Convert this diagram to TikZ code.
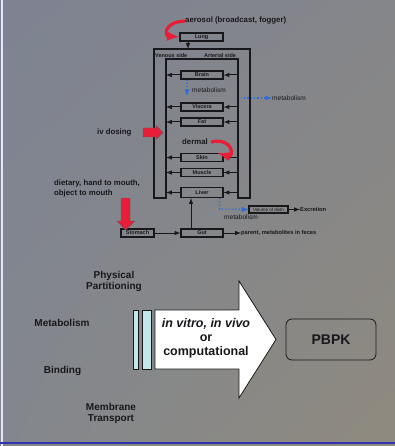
\documentclass[tikz,border=0pt]{standalone}
\usepackage{fontspec}
\setmainfont{Liberation Sans}
\usepackage{tikz}
\usetikzlibrary{arrows, positioning, calc, shadings}

\definecolor{bgtl}{RGB}{126,131,146}
\definecolor{bgtr}{RGB}{133,134,138}
\definecolor{bgbl}{RGB}{131,135,141}
\definecolor{bgbr}{RGB}{143,138,127}
\definecolor{doseRed}{RGB}{232,30,56}
\definecolor{metBlue}{RGB}{48,108,212}
\definecolor{barBlue}{RGB}{196,230,232}
\definecolor{ink}{RGB}{24,24,28}

\newcommand{\pbsize}[1]{\fontsize{#1}{#1}\selectfont}

\tikzset{
	organ/.style={draw=ink, line width=1.2pt, minimum width=42pt, minimum height=8pt, inner sep=0pt, font=\pbsize{5.5}\bfseries, text=ink},
	flow/.style={-latex, draw=ink, line width=1pt},
	metab/.style={-latex, draw=metBlue, line width=1.3pt, dotted},
	lbl/.style={inner sep=0pt, text=ink, font=\pbsize{7.8}\bfseries},
	small/.style={inner sep=0pt, text=ink, font=\pbsize{5.7}\bfseries},
	metlbl/.style={inner sep=0pt, text=ink, font=\pbsize{6.6}},
	prop/.style={inner sep=0pt, text=ink, font=\pbsize{10}\bfseries, align=center},
	dose/.style={fill=doseRed, draw=ink!70, line width=0.4pt},
	curl/.style={-latex, draw=doseRed, line width=3.2pt}
}

\begin{document}
\begin{tikzpicture}[x=1pt,y=-1pt]
	\shade[upper left=bgtl, upper right=bgtr, lower left=bgbl, lower right=bgbr] (0,0) rectangle (395,446);
	\useasboundingbox (0,0) rectangle (395,446);
	\fill[white!75!blue!40] (1,0) rectangle (3,446);
	\fill[blue!60!black!80] (0,441.5) rectangle (395,444);

	% body
	\draw[draw=ink, line width=1.2pt] (154,198) -- (154,49) -- (250,49) -- (250,198) -- (238,198) -- (238,59) -- (166,59) -- (166,198) -- cycle;
	\coordinate (venin) at (166,59);
	\coordinate (artin) at (238,59);
	\coordinate (bodytop) at (188,49);
	\node[small, font=\pbsize{5.5}\bfseries, anchor=west] (venous) at (155,55.5) {Venous side};
	\node[small, font=\pbsize{5.5}\bfseries, anchor=west] (arterial) at (204,55.5) {Arterial side};

	\node[organ, minimum width=43pt] (lung) at (201.5,37) {Lung};
	\node[organ] (brain) at (202,75) {Brain};
	\node[organ] (viscera) at (202,107) {Viscera};
	\node[organ] (fat) at (202,122) {Fat};
	\node[organ] (skin) at (202,157.5) {Skin};
	\node[organ] (muscle) at (202,172.5) {Muscle};
	\node[organ, minimum height=10pt] (liver) at (202,192.5) {Liver};
	\node[organ] (gut) at (202,233) {Gut};
	\node[organ, minimum width=33pt] (stomach) at (137.5,233) {Stomach};
	\node[organ, draw=ink, minimum width=39pt, minimum height=7pt, font=\pbsize{4.5}] (vod) at (268.5,209.5) {Volume of distn};

	\foreach \o in {brain,viscera,fat,skin,muscle,liver}{
		\draw[flow] (\o.east -| artin) -- (\o.east);
		\draw[flow] (\o.west) -- (\o.west -| venin);
	}
	\draw[flow] (lung.south -| bodytop) -- (bodytop);
	\draw[flow] (stomach.east) -- (gut.west);
	\draw[flow] ([xshift=-11pt]gut.north) -- ([xshift=-11pt]liver.south);

	\node[small, anchor=west] (feces) at (241,233) {parent, metabolites in feces};
	\node[small, anchor=west] (excretion) at (300,209.5) {Excretion};
	\draw[flow] (gut.east) -- (feces.west);
	\draw[flow] (vod.east) -- (excretion.west);

	% metabolism
	\coordinate (brainmet) at (187,96);
	\coordinate (bodymet) at (244,98);
	\node[metlbl, anchor=west] (met1) at (192,90) {metabolism};
	\node[metlbl, anchor=west] (met2) at (272,98) {metabolism};
	\node[metlbl, anchor=west] (met3) at (224,217.5) {metabolism};
	\draw[metab] (brain.south -| brainmet) -- (brainmet);
	\draw[metab] (bodymet) -- (met2.west);
	\draw[metab] ([xshift=-4pt]liver.south east) -- ++(0,11) -- (vod.west);

	% exposure routes
	\node[lbl, anchor=west] (aerosol) at (185,21) {aerosol (broadcast, fogger)};
	\draw[curl] (aerosol.west) .. controls (163,22) and (165,36) .. (lung.west);
	\node[lbl, anchor=west] (ivdose) at (97,133) {iv dosing};
	\draw[dose] (143,128) -- (156,128) -- (156,125.5) -- (163,132.5) -- (156,139.5) -- (156,137) -- (143,137) -- cycle;
	\node[lbl, anchor=west] (dermal) at (182,142) {dermal};
	\draw[curl] (dermal.east) ++(3,0) .. controls (234,137) and (234,158) .. ([xshift=-6pt]skin.north east);
	\node[lbl, anchor=west, align=left, font=\fontsize{7.8}{10}\selectfont\bfseries] (dietary) at (54,188) {dietary, hand to mouth,\\object to mouth};
	\draw[dose] (121,198) -- (130,198) -- (130,221) -- (135,221) -- (125.5,230) -- (117,221) -- (121,221) -- cycle;

	% properties
	\node[prop] (physical) at (114,281) {Physical\\[1pt]Partitioning};
	\node[prop] (metabolism) at (62,323) {Metabolism};
	\node[prop] (binding) at (62.5,371) {Binding};
	\node[prop] (membrane) at (111,413) {Membrane\\[1pt]Transport};

	\draw[draw=ink, fill=barBlue, line width=0.6pt] (133,310) rectangle (138,369);
	\draw[draw=ink, fill=barBlue, line width=0.6pt] (142,310) rectangle (151,369);
	\draw[draw=ink, fill=white, line width=0.8pt] (155,310) -- (239,310) -- (239,281) -- (276,339.5) -- (239,398) -- (239,369) -- (155,369) -- cycle;
	\node[inner sep=0pt, text=ink, align=center, font=\pbsize{12.5}\bfseries] (methods) at (206,338) {\itshape in vitro, in vivo\\[2pt]or\\[1pt]computational};

	\node[draw=ink, rounded corners=6pt, line width=0.8pt, minimum width=90pt, minimum height=41pt, text=ink, font=\pbsize{14}\bfseries] (pbpk) at (331,339.5) {PBPK};
\end{tikzpicture}
\end{document}
